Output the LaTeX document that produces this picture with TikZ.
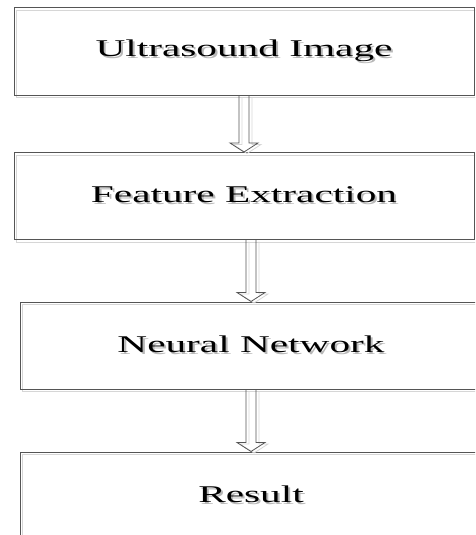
\documentclass[tikz,border=0pt]{standalone}
\usepackage{fontspec}
\setmainfont{Liberation Serif}
\usetikzlibrary{calc}
\definecolor{boxgray}{HTML}{555555}
\definecolor{shadowgray}{HTML}{D6D6D6}
\definecolor{textshadow}{HTML}{B8B8B8}
\newcommand\shadowtext[1]{\scalebox{1.72}[1]{\leavevmode\rlap{\kern1.2pt\raisebox{-1.8pt}{\textcolor{textshadow}{#1}}}#1}}
\tikzset{
  stepbox/.style={draw=boxgray, line width=1pt, rectangle, inner sep=0pt,
    minimum height=87pt,
    font=\fontsize{24}{28}\selectfont,
    preaction={draw=shadowgray, line width=1pt, transform canvas={shift={(2.5pt,-2.5pt)}}}},
  arrowline/.style={draw=boxgray, line width=0.8pt, line join=miter},
  arrowshadow/.style={draw=shadowgray, line width=0.8pt, transform canvas={shift={(3pt,-1.5pt)}}}
}
\newcommand\blockarrow[3][arrowline]{%
  \draw[#1] let \p1=(#2.south), \p2=(#3.north) in
    (\x2-5pt,\y1) -- (\x2-5pt,\y2+9pt) -- (\x2-14pt,\y2+9pt) -- (\x2,\y2)
    -- (\x2+14pt,\y2+9pt) -- (\x2+5pt,\y2+9pt) -- (\x2+5pt,\y1);}
\begin{document}
\begin{tikzpicture}[x=1pt,y=1pt]
\useasboundingbox (0,0) rectangle (475,-535);
\clip (0,0) rectangle (475,-535);
\node[stepbox, minimum width=460pt] (b1) at (244,-51.5) {\shadowtext{Ultrasound Image}};
\node[stepbox, minimum width=460pt] (b2) at (244,-196) {\shadowtext{Feature Extraction}};
\node[stepbox, minimum width=462pt] (b3) at (251,-345.5) {\shadowtext{Neural Network}};
\node[stepbox, minimum width=462pt] (b4) at (251,-495.5) {\shadowtext{Result}};
\blockarrow[arrowshadow]{b1}{b2}
\blockarrow[arrowshadow]{b2}{b3}
\blockarrow[arrowshadow]{b3}{b4}
\blockarrow{b1}{b2}
\blockarrow{b2}{b3}
\blockarrow{b3}{b4}
\end{tikzpicture}
\end{document}
